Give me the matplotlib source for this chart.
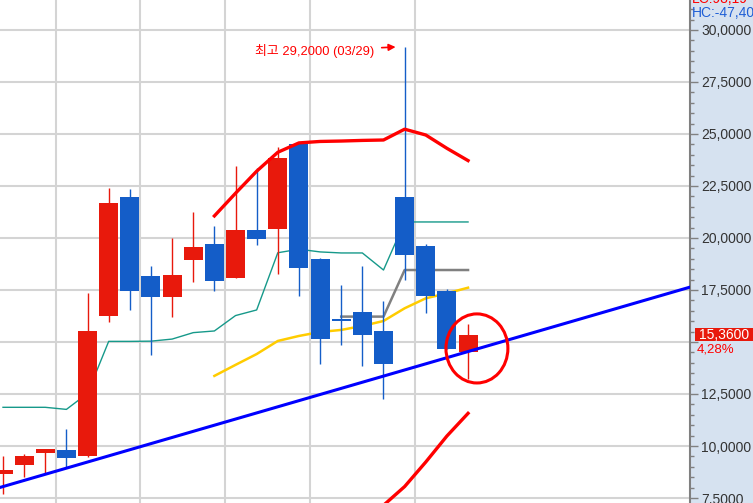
#!/usr/bin/env python3
"""Daily candle chart with envelope lines, trend line and price box"""

import numpy as np
import matplotlib
matplotlib.use('Agg')
import matplotlib.pyplot as plt
import matplotlib.transforms as mtransforms
from matplotlib.patches import Rectangle, Ellipse

# candle data, oldest first
OPENS = [8.65, 9.09, 9.66, 9.81, 9.52, 16.26, 21.97, 18.17, 17.18, 18.96, 19.71, 18.09,
         20.38, 20.45, 24.52, 18.99, 16.07, 16.44, 15.53, 21.97, 19.62, 17.45, 14.53]
CLOSES = [8.85, 9.52, 9.86, 9.42, 15.53, 21.68, 17.47, 17.18, 18.22, 19.57, 17.95, 20.38,
          19.97, 23.85, 18.57, 15.16, 16.07, 15.35, 13.96, 19.20, 17.23, 14.68, 15.36]
HIGHS = [9.52, 9.62, 9.86, 10.82, 17.36, 22.40, 22.36, 18.65, 20.00, 21.25, 20.58, 23.46,
         23.37, 24.39, 24.62, 19.04, 17.74, 18.65, 16.97, 29.20, 19.71, 17.55, 15.87]
LOWS = [7.70, 8.51, 8.65, 8.99, 9.47, 15.98, 16.55, 14.39, 16.22, 17.90, 17.47, 18.09,
        19.68, 18.27, 17.23, 13.96, 14.87, 13.86, 12.27, 18.00, 16.41, 14.68, 13.24]

# indicator lines
TEAL = [11.86, 11.86, 11.86, 11.76, 12.53, 15.03, 15.03, 15.04, 15.14, 15.45, 15.53, 16.27,
        16.54, 19.29, 19.46, 19.33, 19.28, 19.28, 18.46, 20.77, 20.77, 20.77, 20.77]
UPPER_START = 10
UPPER = [21.06, 22.15, 23.21, 24.12, 24.57, 24.64, 24.66, 24.69, 24.71, 25.23, 24.95, 24.31, 23.72]
YELLOW_START = 10
YELLOW = [13.37, 13.90, 14.42, 15.05, 15.29, 15.48, 15.58, 15.77, 16.01, 16.62, 17.10, 17.34, 17.61]
GRAY_START = 16
GRAY = [16.22, 16.22, 16.22, 18.46, 18.46, 18.46, 18.46]
LOWER_START = 18
LOWER = [7.15, 8.05, 9.23, 10.48, 11.57]

# trend line anchors (candle index, price)
TREND = [(0, 8.05), (32, 17.49)]

WEEK_BREAKS = [2.5, 6.5, 10.5, 14.5, 19.5]

HIGH_LABEL = '최고 29,2000 (03/29)'
LAST_PRICE = '15,3600'
LAST_CHANGE = '4,28%'
CHANGE_LEVEL = 14.66

RED = '#e8190c'
BLUE = '#145dc8'


def fmt(value):
    return f'{value:.4f}'.replace('.', ',')


def main():
    fig = plt.figure(figsize=(7.53, 5.03), dpi=100)
    fig.patch.set_facecolor('#d6e2f0')
    ax = fig.add_axes([0, 0, 690 / 753, 1])
    ax.set_facecolor('white')

    xs = np.arange(len(OPENS))
    for i in xs:
        o, c, h, l = OPENS[i], CLOSES[i], HIGHS[i], LOWS[i]
        color = RED if c > o else BLUE
        ax.vlines(i, l, h, color=color, lw=1, zorder=3)
        bottom = min(o, c)
        height = max(abs(c - o), 0.1)
        ax.add_patch(Rectangle((i - 0.45, bottom - (0.05 if o == c else 0)), 0.9, height,
                               facecolor=color, edgecolor='none', zorder=4))

    ax.plot(xs, TEAL, color='#16998a', lw=1, zorder=2)
    ax.plot(np.arange(UPPER_START, UPPER_START + len(UPPER)), UPPER, color='#ff0000', lw=2.4, zorder=5)
    ax.plot(np.arange(YELLOW_START, YELLOW_START + len(YELLOW)), YELLOW, color='#ffcc00', lw=1.8, zorder=2)
    ax.plot(np.arange(GRAY_START, GRAY_START + len(GRAY)), GRAY, color='#808080', lw=1.8, zorder=2)
    ax.plot(np.arange(LOWER_START, LOWER_START + len(LOWER)), LOWER, color='#ff0000', lw=2.4, zorder=5)
    ax.axline(TREND[0], TREND[1], color='#0000ff', lw=2.2, zorder=6)

    # circle around the last candle
    ax.add_patch(Ellipse((22.42, 14.69), 2.93, 3.32, facecolor='none',
                         edgecolor='#ff0000', lw=2.2, zorder=7))

    # highest price annotation
    hi = int(np.argmax(HIGHS))
    ax.annotate(HIGH_LABEL, xy=(hi, HIGHS[hi]), xytext=(-22, -3), textcoords='offset points',
                ha='right', va='center', color='#ff0000', fontsize=9.3,
                family=['Liberation Sans', 'Noto Sans CJK KR'],
                arrowprops=dict(arrowstyle='-|>', color='#ff0000', lw=1.2,
                                mutation_scale=10, shrinkA=3.5, shrinkB=6.5))

    ax.set_xlim(-0.142, 32.5)
    ax.set_ylim(7.26, 31.44)

    major = np.arange(7.5, 30.01, 2.5)
    shown = [v for v in major if v != 15]
    ax.set_yticks(major)
    ax.set_yticks(np.arange(7.5, 31.01, 0.5), minor=True)
    ax.set_yticklabels([fmt(v) if v in shown else '' for v in major])
    ax.yaxis.tick_right()
    ax.tick_params(axis='y', which='major', length=6, width=1, color='#808080',
                   labelsize=10, labelcolor='#333333', pad=2)
    ax.tick_params(axis='y', which='minor', length=3, width=1, color='#808080')
    for label in ax.get_yticklabels():
        label.set_family('Liberation Sans')

    ax.set_xticks(WEEK_BREAKS)
    ax.set_xticklabels([])
    ax.tick_params(axis='x', length=0)
    ax.grid(axis='both', which='major', color='#d4d4d4', lw=1.5, zorder=0)
    ax.set_axisbelow(True)

    for side in ('top', 'left', 'bottom'):
        ax.spines[side].set_visible(False)
    ax.spines['right'].set_color('#808080')
    ax.spines['right'].set_linewidth(1.5)

    # last price box on the right scale
    side = mtransforms.blended_transform_factory(ax.transAxes, ax.transData)
    last = CLOSES[-1]
    ax.add_patch(Rectangle((695 / 690, last - 0.3), 58 / 690, 0.6, transform=side,
                           facecolor=RED, edgecolor='none', clip_on=False, zorder=8))
    ax.text(724 / 690, last, LAST_PRICE, transform=side, ha='center', va='center',
            color='white', fontsize=10, family='Liberation Sans', clip_on=False, zorder=9)
    ax.text(697 / 690, CHANGE_LEVEL, LAST_CHANGE, transform=side, ha='left', va='center',
            color='#ff0000', fontsize=9.5, family='Liberation Sans', clip_on=False, zorder=9)

    fig.text(692 / 753, 1 + 1 / 503, 'LC:98,19', color='#ff0000', fontsize=10,
             family='Liberation Sans', va='center', ha='left')
    fig.text(692 / 753, 1 - 13 / 503, 'HC:-47,40', color='#1f5fd6', fontsize=10,
             family='Liberation Sans', va='center', ha='left')

    fig.savefig('out.png', dpi=100, facecolor=fig.get_facecolor())


if __name__ == '__main__':
    main()
